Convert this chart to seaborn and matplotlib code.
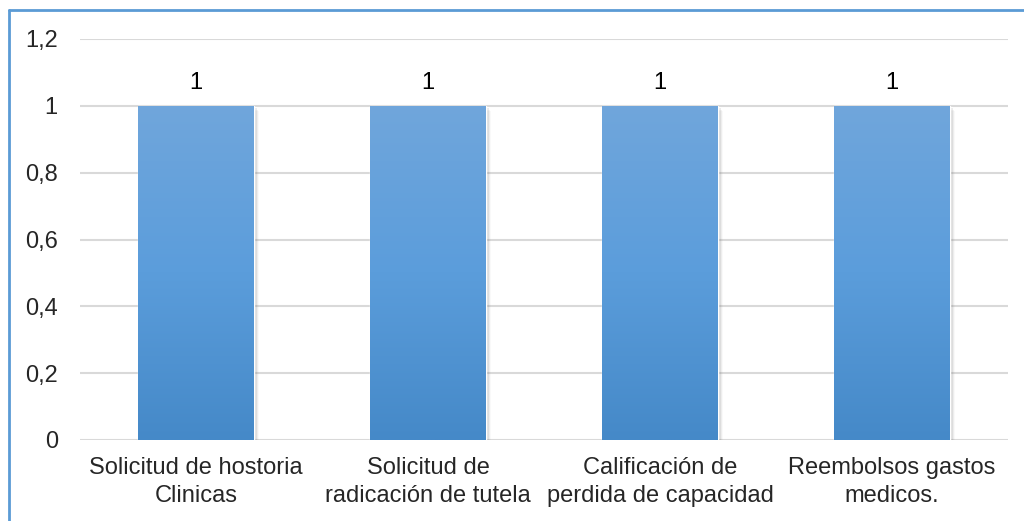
import matplotlib
matplotlib.use("Agg")
import matplotlib.pyplot as plt
import seaborn as sns
import numpy as np
import pandas as pd
from matplotlib.lines import Line2D
from matplotlib.patches import Rectangle
import matplotlib.transforms as mtransforms
from matplotlib.colors import LinearSegmentedColormap

categories = ["Solicitud de hostoria\nClinicas",
              "Solicitud de\nradicación de tutela",
              "Calificación de\nperdida de capacidad",
              "Reembolsos gastos\nmedicos."]
values = [1, 1, 1, 1]
yticks = [0, 0.2, 0.4, 0.6, 0.8, 1.0, 1.2]
ytick_labels = ["0", "0,2", "0,4", "0,6", "0,8", "1", "1,2"]

sns.set_theme(style="white")
plt.rcParams['font.family'] = ['Liberation Sans', 'DejaVu Sans']

FS = 17
W, H = 1024, 521
fig = plt.figure(figsize=(W/100, H/100), dpi=100)
ax = fig.add_axes([80/W, (H-440)/H, (1008-80)/W, (440-39)/H])

df = pd.DataFrame({"cat": categories, "val": values})
sns.barplot(data=df, x="cat", y="val", ax=ax, width=0.5, color="#5B9BD5",
            saturation=1, zorder=3)

ax.set_ylim(0, 1.2)
ax.set_xlim(-0.5, len(categories) - 0.5)
ax.set_yticks(yticks)
ax.set_yticklabels(ytick_labels, fontsize=FS)
ax.set_xlabel("")
ax.set_ylabel("")
ax.tick_params(axis="x", labelsize=FS, length=0, pad=12)
ax.tick_params(axis="y", length=0, pad=16)
for lbl in ax.get_xticklabels():
    lbl.set_linespacing(1.4)
ax.grid(axis="y", color="#D9D9D9", linewidth=1.5, zorder=0)
ax.grid(axis="x", visible=False)
for s in ax.spines.values():
    s.set_visible(False)

grad = np.linspace(0, 1, 256).reshape(-1, 1)
cmap = LinearSegmentedColormap.from_list("g", ["#4589C8", "#5B9DDB", "#70A6DC"])
for p in list(ax.patches):
    x0, y0 = p.get_x(), p.get_y()
    w, h = p.get_width(), p.get_height()
    for i, a in enumerate([0.20, 0.13, 0.08, 0.04]):
        off = mtransforms.offset_copy(ax.transData, fig=fig, x=(i+1)*1.3, y=-(i+1)*1.3, units="dots")
        ax.add_patch(Rectangle((x0, y0), w, h, facecolor="#707070", alpha=a,
                               edgecolor="none", transform=off, zorder=2))
    im = ax.imshow(grad, extent=[x0, x0 + w, y0, y0 + h], origin="lower",
                   cmap=cmap, aspect="auto", zorder=3.5)
    im.set_clip_path(p)
    ax.text(x0 + w/2, h + 0.035, f"{int(h)}",
            ha="center", va="bottom", fontsize=FS, color="black")

ax.set_xlim(-0.5, len(categories) - 0.5)
ax.set_ylim(0, 1.2)

fig.add_artist(Line2D([9/W, 9/W], [0, (H-10)/H], color="#5B9BD5", linewidth=2,
                      transform=fig.transFigure))
fig.add_artist(Line2D([9/W, 1], [(H-10)/H, (H-10)/H], color="#5B9BD5", linewidth=2,
                      transform=fig.transFigure))

fig.savefig("out.png", dpi=100, facecolor="white")
